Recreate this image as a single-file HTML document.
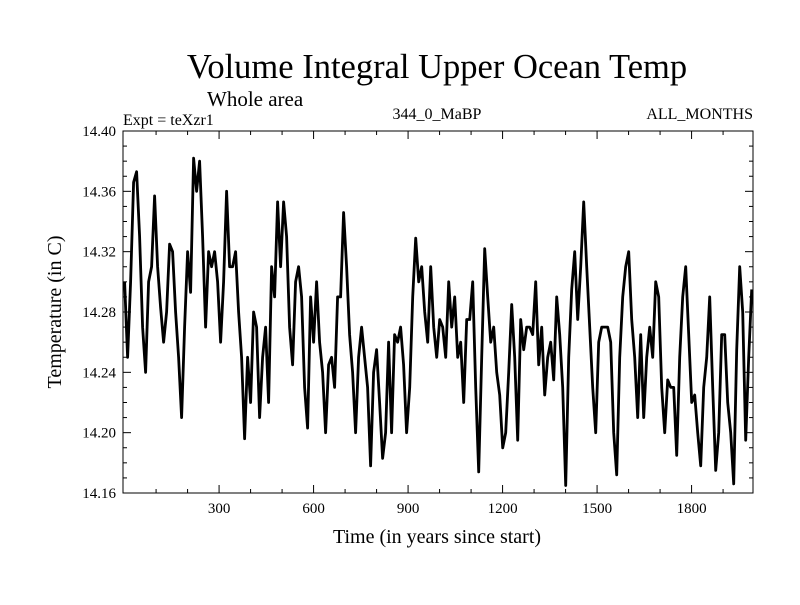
<!DOCTYPE html>
<html><head><meta charset="utf-8"><style>
body{margin:0;background:#fff}
svg text{font-family:"Liberation Serif",serif;fill:#000}
</style></head><body>
<svg id="chart" width="800" height="600" xmlns="http://www.w3.org/2000/svg">
<text x="437" y="78" font-size="34.5" text-anchor="middle">Volume Integral Upper Ocean Temp</text>
<text x="207" y="106" font-size="21">Whole area</text>
<text x="123" y="125" font-size="16">Expt = teXzr1</text>
<text x="437" y="119" font-size="16" text-anchor="middle">344_0_MaBP</text>
<text x="753" y="119" font-size="16" text-anchor="end">ALL_MONTHS</text>
<text transform="translate(61,312) rotate(-90)" font-size="20" text-anchor="middle">Temperature (in C)</text>
<text x="437" y="543" font-size="20" text-anchor="middle">Time (in years since start)</text>
<g id="axes"></g>
<g id="series"></g>
<rect x="123" y="131" width="630" height="362" fill="none" stroke="#000" stroke-width="1"/>
</svg>
<script>
const values = [
14.30,14.25,14.30,14.366,14.373,14.33,14.27,14.24,14.30,14.31,14.357,14.31,14.283,14.26,14.28,14.325,14.32,14.28,14.25,14.21,14.27,14.32,14.293,14.382,14.36,14.38,14.33,14.27,14.32,14.31,14.32,14.30,14.26,14.30,14.36,14.31,14.31,14.32,14.28,14.25,14.196,14.25,14.22,14.28,14.27,14.21,14.25,14.27,14.22,14.31,14.29,14.353,14.31,
14.353,14.33,14.27,14.245,14.30,14.31,14.29,14.23,14.203,14.29,14.26,14.30,14.26,14.24,14.20,14.245,14.25,14.23,14.29,14.29,14.346,14.31,14.265,14.24,14.20,14.25,14.27,14.25,14.23,14.178,14.24,14.255,14.22,14.183,14.20,14.26,14.20,14.265,14.26,14.27,14.245,14.20,14.23,14.29,14.329,14.30,14.31,14.28,14.26,14.31,14.27,14.25,14.275,
14.27,14.25,14.30,14.27,14.29,14.25,14.26,14.22,14.275,14.275,14.30,14.23,14.174,14.25,14.322,14.29,14.26,14.27,14.24,14.225,14.19,14.20,14.24,14.285,14.25,14.195,14.275,14.255,14.27,14.27,14.265,14.30,14.245,14.27,14.225,14.25,14.26,14.235,14.29,14.265,14.23,14.165,14.25,14.295,14.32,14.275,14.31,14.353,14.31,14.27,14.23,14.20,14.26,14.27,14.27,
14.27,14.26,14.20,14.172,14.25,14.29,14.31,14.32,14.275,14.25,14.21,14.265,14.21,14.25,14.27,14.25,14.30,14.29,14.23,14.20,14.235,14.23,14.23,14.185,14.25,14.29,14.31,14.265,14.22,14.225,14.20,14.178,14.23,14.25,14.29,14.23,14.175,14.20,14.265,14.265,14.22,14.20,14.166,14.255,14.31,14.28,14.195,14.25,14.295
];
const startYear = 0, endYear = 1991;
const yTicks = [14.16,14.20,14.24,14.28,14.32,14.36,14.40];
const xTicks = [300,600,900,1200,1500,1800];
const X0=123,X1=753,Y0=131,Y1=493, XMIN=-5, XMAX=1995, YMIN=14.16, YMAX=14.40;
const sx=v=>X0+(v-XMIN)/(XMAX-XMIN)*(X1-X0);
const sy=v=>Y1-(v-YMIN)/(YMAX-YMIN)*(Y1-Y0);
const NS="http://www.w3.org/2000/svg";
const axes=document.getElementById('axes'), series=document.getElementById('series');
function mk(t,a){const e=document.createElementNS(NS,t);for(const k in a)e.setAttribute(k,a[k]);return e;}
for(let v=14.16;v<=14.4001;v+=0.01){
  const y=sy(v); const major=Math.abs(Math.round(v*100)%4)===0; const L=major?8:4;
  const t1=mk('line',{x1:X0,x2:X0+L,y1:y,y2:y,stroke:'#000'});
  
  
  axes.appendChild(t1);
  const t2=mk('line',{x1:X1,x2:X1-L,y1:y,y2:y,stroke:'#000'});
  
  
  axes.appendChild(t2);
}
yTicks.forEach(v=>{
  const t=mk('text',{x:116,y:sy(v)+5,'font-size':15,'text-anchor':'end'});
  t.textContent=v.toFixed(2);
  
  
  axes.appendChild(t);
});
for(let v=100;v<=1900;v+=100){
  const x=sx(v); const L=(v%300===0)?8:4;
  const a=mk('line',{x1:x,x2:x,y1:Y1,y2:Y1-L,stroke:'#000'});
  
  
  axes.appendChild(a);
  const b=mk('line',{x1:x,x2:x,y1:Y0,y2:Y0+L,stroke:'#000'});
  
  
  axes.appendChild(b);
}
xTicks.forEach(v=>{
  const t=mk('text',{x:sx(v),y:513,'font-size':15,'text-anchor':'middle'});
  t.textContent=v;
  
  
  axes.appendChild(t);
});
const n=values.length;
const pts=values.map((v,i)=>sx(startYear+i*(endYear-startYear)/(n-1)).toFixed(1)+','+sy(v).toFixed(1)).join(' ');
const pl=mk('polyline',{points:pts,fill:'none',stroke:'#000','stroke-width':2.8,'stroke-linejoin':'round'});


series.appendChild(pl);
</script>
</body></html>
